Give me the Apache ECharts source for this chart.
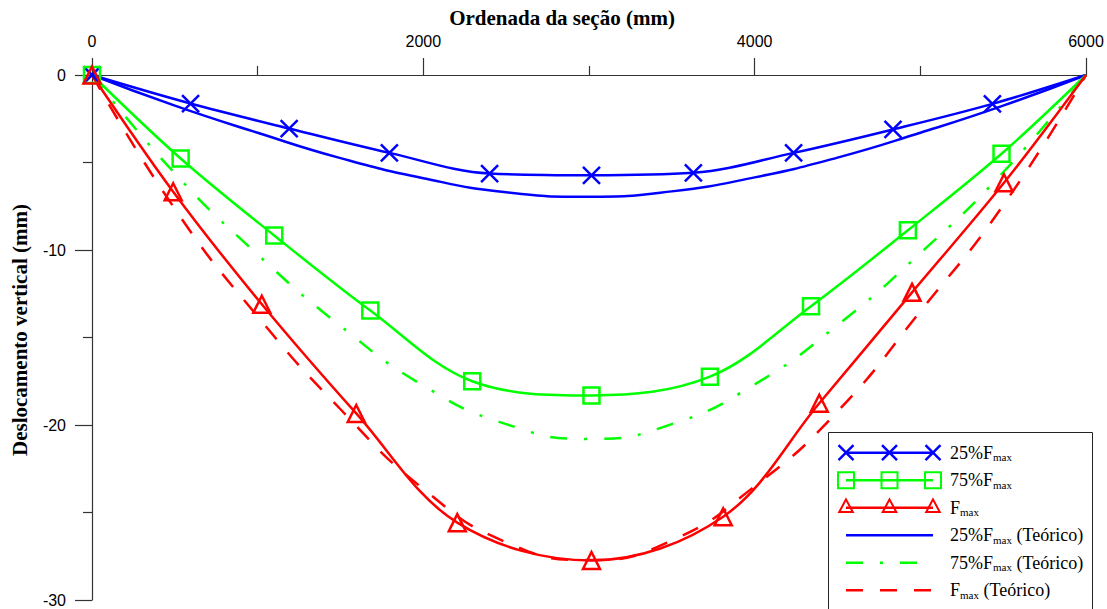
<!DOCTYPE html>
<html>
<head>
<meta charset="utf-8">
<title>Deslocamento vertical</title>
<script src="https://cdn.jsdelivr.net/npm/echarts@6/dist/echarts.min.js"></script>
<style>
  html, body { margin: 0; padding: 0; background: #fff; }
  #chart { width: 1107px; height: 609px; }
</style>
</head>
<body>
<div id="chart"></div>
<script>
// Ordenadas (mm) e deslocamentos medidos (mm)
const expX25 = [0, 595, 1190, 1795, 2400, 3015, 3630, 4235, 4835, 5435, 6000];
const expY25 = [0, -1.63, -3.06, -4.45, -5.63, -5.73, -5.59, -4.45, -3.11, -1.65, 0];
const expX75 = [0, 535, 1100, 1680, 2295, 3015, 3730, 4340, 4925, 5490, 6000];
const expY75 = [0, -4.77, -9.17, -13.46, -17.5, -18.31, -17.24, -13.21, -8.87, -4.5, 0];
const expXmax = [0, 490, 1025, 1595, 2205, 3015, 3810, 4390, 4950, 5505, 6000];
const expYmax = [0, -6.67, -13.1, -19.34, -25.58, -27.74, -25.24, -18.76, -12.42, -6.16, 0];

// Curvas teóricas
const theoX = [0, 500, 1000, 1500, 2000, 2500, 3000, 3500, 4000, 4500, 5000, 5500, 6000];
const theoY25 = [0, -1.75, -3.3, -4.75, -5.9, -6.7, -6.96, -6.65, -5.85, -4.72, -3.3, -1.75, 0];
const theoY75 = [0, -5.62, -10.26, -14.34, -17.75, -19.95, -20.8, -19.95, -17.68, -14.29, -10.18, -5.56, 0];
const theoYmax = [0, -7.65, -13.8, -19.1, -23.65, -26.7, -27.72, -26.6, -23.5, -19.23, -13.5, -7.45, 0];

// Eixos
const xTicks = { min: 0, max: 6000, step: 2000 };
const yTicks = { min: -30, max: 0, step: 10 };

const legendLabels = [
  ['25%F', 'max', ''],
  ['75%F', 'max', ''],
  ['F', 'max', ''],
  ['25%F', 'max', ' (Teórico)'],
  ['75%F', 'max', ' (Teórico)'],
  ['F', 'max', ' (Teórico)']
];

const BLUE = '#0000ff', GREEN = '#00ff00', RED = '#ff0000';
const SANS = '"Liberation Sans", Arial, Helvetica, sans-serif';
const SERIF = '"Liberation Serif", "Times New Roman", Times, serif';
const X_SYMBOL = 'path://M0,0L10,10M10,0L0,10';

function pairs(xs, ys) {
  return xs.map((x, i) => [x, ys[i]]);
}
// pontos medidos: sem marcador no apoio final
function measured(xs, ys) {
  const pts = pairs(xs, ys);
  return pts.map((p, i) => (i === pts.length - 1 ? { value: p, symbol: 'none' } : p));
}

function expSeries(name, xs, ys, color, symbol, size) {
  return {
    name, type: 'line', data: measured(xs, ys), smooth: 0.35,
    symbol, symbolSize: size, showAllSymbol: true,
    lineStyle: { color, width: 2.5 },
    itemStyle: { color: 'rgba(0,0,0,0)', borderColor: color, borderWidth: 2.5 },
    emphasis: { disabled: true }, silent: true, z: 3
  };
}
function theoSeries(name, ys, color, type) {
  return {
    name, type: 'line', data: pairs(theoX, ys), smooth: true, symbol: 'none',
    lineStyle: { color, width: 2.5, type, cap: 'butt' },
    emphasis: { disabled: true }, silent: true, z: 2
  };
}

// Legenda desenhada em bloco, com três marcadores por linha
function buildLegend() {
  const els = [];
  const x0 = 846, x1 = 933, xm = 889.5, tx = 950;
  const y0 = 452.7, dy = 27.5;
  els.push({
    type: 'rect', shape: { x: 828.5, y: 432.5, width: 264, height: 200 },
    style: { fill: '#fff', stroke: '#222', lineWidth: 1 }
  });
  const styles = [
    { color: BLUE, mark: 'x' },
    { color: GREEN, mark: 'square' },
    { color: RED, mark: 'triangle' },
    { color: BLUE, dash: null },
    { color: GREEN, dash: [17, 17, 3, 17] },
    { color: RED, dash: [17, 17] }
  ];
  styles.forEach((s, r) => {
    const cy = y0 + r * dy;
    const lineStyle = { stroke: s.color, lineWidth: 2.5 };
    if (s.dash) lineStyle.lineDash = s.dash;
    els.push({ type: 'line', shape: { x1: x0, y1: cy, x2: x1, y2: cy }, style: lineStyle });
    [x0, xm, x1].forEach(cx => {
      if (s.mark === 'x') {
        const h = 7.5;
        els.push({ type: 'line', shape: { x1: cx - h, y1: cy - h, x2: cx + h, y2: cy + h }, style: { stroke: s.color, lineWidth: 2.5 } });
        els.push({ type: 'line', shape: { x1: cx - h, y1: cy + h, x2: cx + h, y2: cy - h }, style: { stroke: s.color, lineWidth: 2.5 } });
      } else if (s.mark === 'square') {
        els.push({ type: 'rect', shape: { x: cx - 8, y: cy - 8, width: 16, height: 16 }, style: { fill: 'none', stroke: s.color, lineWidth: 2 } });
      } else if (s.mark === 'triangle') {
        els.push({ type: 'polygon', shape: { points: [[cx, cy - 8.3], [cx + 6.8, cy + 4.4], [cx - 6.8, cy + 4.4]] }, style: { fill: 'none', stroke: s.color, lineWidth: 2 } });
      }
    });
    const lab = legendLabels[r];
    els.push({
      type: 'text',
      style: {
        x: tx, y: cy, verticalAlign: 'middle', align: 'left',
        text: '{m|' + lab[0] + '}{s|' + lab[1] + '}' + (lab[2] ? '{m|' + lab[2] + '}' : ''),
        rich: {
          m: { fontFamily: SERIF, fontSize: 18, lineHeight: 20, fill: '#000', color: '#000' },
          s: { fontFamily: SERIF, fontSize: 11, lineHeight: 8, verticalAlign: 'bottom', fill: '#000', color: '#000' }
        }
      }
    });
  });
  return [{ type: 'group', z: 100, children: els }];
}

const axisColor = '#333';
const plainNumber = v => String(v);
const option = {
  animation: false,
  backgroundColor: '#fff',
  grid: { left: 92, right: 21, top: 75, bottom: 9 },
  xAxis: {
    type: 'value', position: 'top',
    min: xTicks.min, max: xTicks.max, interval: xTicks.step,
    name: 'Ordenada da seção (mm)', nameLocation: 'middle', nameGap: 46,
    nameTextStyle: { fontFamily: SERIF, fontWeight: 'bold', fontSize: 21, color: '#000', padding: [0, 54, 0, 0] },
    axisLine: { onZero: false, lineStyle: { color: axisColor, width: 1.2 } },
    axisTick: { show: true, inside: false, length: 17, lineStyle: { color: axisColor, width: 1.2 } },
    minorTick: { show: true, splitNumber: 2, length: 9, lineStyle: { color: axisColor, width: 1.2 } },
    splitLine: { show: false },
    axisLabel: { margin: 26, fontFamily: SANS, fontSize: 16, color: '#000', formatter: plainNumber }
  },
  yAxis: {
    type: 'value', position: 'left',
    min: yTicks.min, max: yTicks.max, interval: yTicks.step,
    name: 'Deslocamento vertical (mm)', nameLocation: 'middle', nameGap: 62,
    nameTextStyle: { fontFamily: SERIF, fontWeight: 'bold', fontSize: 21, color: '#000', padding: [0, 0, 0, 15] },
    axisLine: { onZero: false, lineStyle: { color: axisColor, width: 1.2 } },
    axisTick: { show: true, inside: false, length: 17, lineStyle: { color: axisColor, width: 1.2 } },
    minorTick: { show: true, splitNumber: 2, length: 9, lineStyle: { color: axisColor, width: 1.2 } },
    splitLine: { show: false },
    axisLabel: { margin: 26, fontFamily: SANS, fontSize: 16, color: '#000', formatter: plainNumber }
  },
  series: [
    expSeries('25%Fmax', expX25, expY25, BLUE, X_SYMBOL, 17),
    expSeries('75%Fmax', expX75, expY75, GREEN, 'rect', 16),
    expSeries('Fmax', expXmax, expYmax, RED, 'triangle', 17),
    theoSeries('25%Fmax (Teórico)', theoY25, BLUE, 'solid'),
    theoSeries('75%Fmax (Teórico)', theoY75, GREEN, [17, 17, 3, 17]),
    theoSeries('Fmax (Teórico)', theoYmax, RED, [17, 17])
  ],
  graphic: buildLegend()
};

const chart = echarts.init(document.getElementById('chart'), null, { renderer: 'svg' });
chart.setOption(option);
</script>
</body>
</html>
